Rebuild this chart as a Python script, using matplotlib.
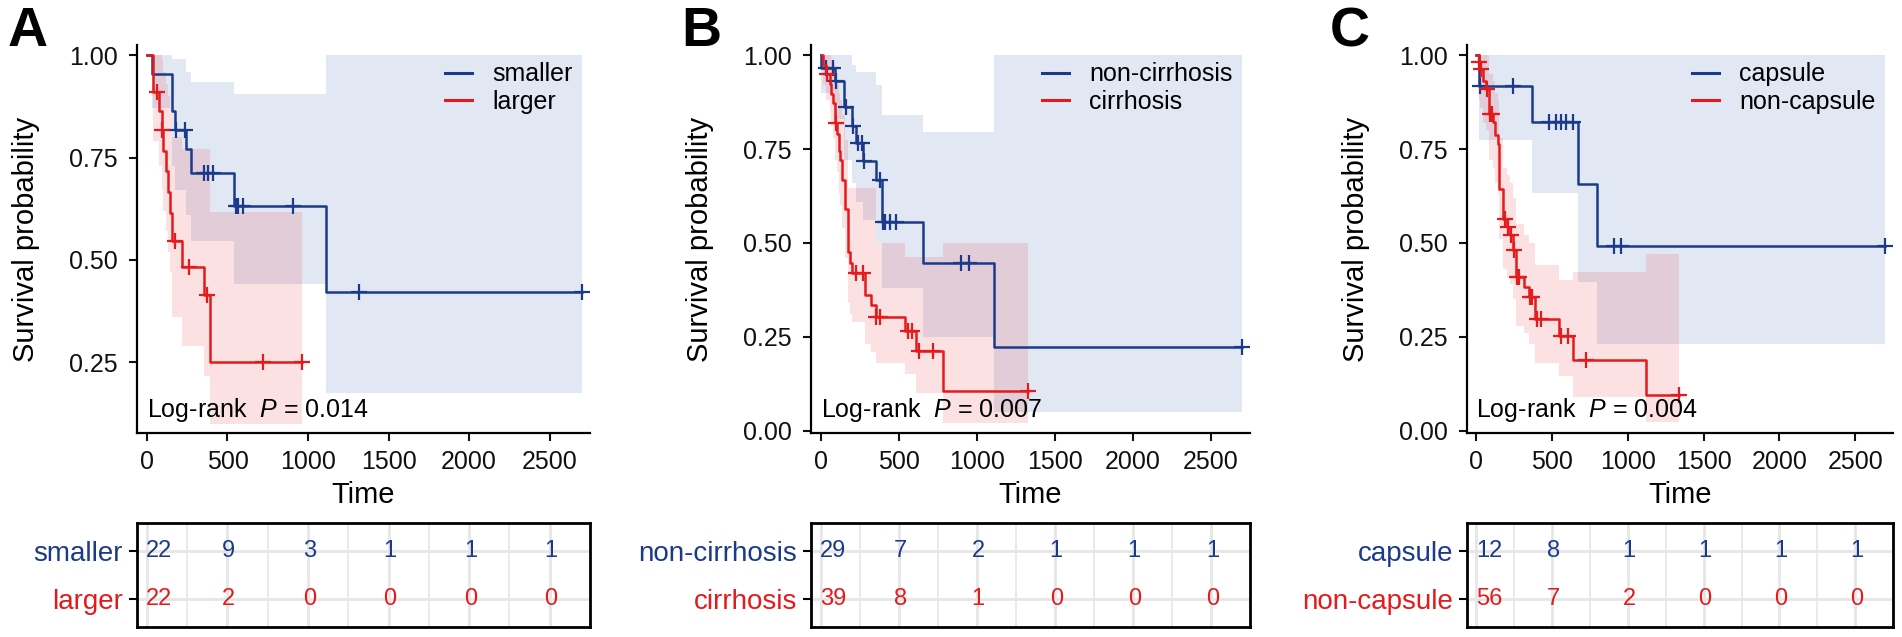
import matplotlib
matplotlib.use("Agg")
import matplotlib.pyplot as plt
from matplotlib.lines import Line2D

plt.rcParams['font.family'] = ['Liberation Sans', 'DejaVu Sans']
plt.rcParams['mathtext.fontset'] = 'custom'
plt.rcParams['mathtext.rm'] = 'Liberation Sans'
plt.rcParams['mathtext.it'] = 'Liberation Sans:italic'

BLUE = '#1B3A8A'
RED = '#E41A1C'
BLUE_BAND = '#4A6FB5'

# time points of the number-at-risk table
risk_times = [0, 500, 1000, 1500, 2000, 2500]

# ---------------- A : tumour size ----------------
a_names = ["smaller", "larger"]
a_pval = "0.014"
# smaller
a_s_time = [0, 30, 153, 175, 241, 271, 542, 1110]
a_s_surv = [1.0, 0.955, 0.864, 0.818, 0.770, 0.711, 0.632, 0.421]
a_s_upper = [1.0, 1.0, 0.99, 0.99, 0.96, 0.935, 0.906, 1.0]
a_s_lower = [1.0, 0.87, 0.73, 0.67, 0.61, 0.545, 0.44, 0.175]
a_s_cens = [178, 236, 353, 380, 411, 550, 567, 598, 904, 1317, 2700]
a_s_risk = [22, 9, 3, 1, 1, 1]
# larger
a_l_time = [0, 39, 74, 91, 101, 116, 128, 143, 153, 215, 353, 391]
a_l_surv = [1.0, 0.909, 0.864, 0.818, 0.767, 0.716, 0.665, 0.614, 0.545, 0.482, 0.414, 0.25]
a_l_upper = [1.0, 1.0, 1.0, 0.99, 0.96, 0.93, 0.90, 0.87, 0.80, 0.772, 0.772, 0.617]
a_l_lower = [1.0, 0.79, 0.73, 0.67, 0.62, 0.57, 0.52, 0.47, 0.36, 0.29, 0.215, 0.10]
a_l_cens = [64, 95, 174, 263, 374, 722, 964]
a_l_risk = [22, 2, 0, 0, 0, 0]

# ---------------- B : cirrhosis ----------------
b_names = ["non-cirrhosis", "cirrhosis"]
b_pval = "0.007"
# non-cirrhosis
b_n_time = [0, 3, 90, 147, 200, 228, 271, 356, 395, 655, 1113]
b_n_surv = [1.0, 0.966, 0.931, 0.862, 0.81, 0.765, 0.719, 0.668, 0.557, 0.446, 0.223]
b_n_upper = [1.0, 1.0, 1.0, 1.0, 0.973, 0.956, 0.956, 0.92, 0.84, 0.796, 1.0]
b_n_lower = [1.0, 0.90, 0.83, 0.72, 0.66, 0.61, 0.56, 0.50, 0.38, 0.25, 0.05]
b_n_cens = [36, 79, 95, 162, 205, 239, 262, 280, 377, 400, 413, 441, 480, 900, 953, 2700]
b_n_risk = [29, 7, 2, 1, 1, 1]
# cirrhosis
b_c_time = [0, 15, 36, 58, 68, 80, 90, 104, 117, 126, 139, 154, 175, 186, 200,
            282, 324, 352, 537, 612, 783]
b_c_surv = [1.0, 0.974, 0.949, 0.923, 0.897, 0.872, 0.82, 0.79, 0.745, 0.72, 0.668,
            0.59, 0.475, 0.447, 0.421, 0.362, 0.335, 0.304, 0.266, 0.211, 0.105]
b_c_upper = [1.0, 1.0, 1.0, 1.0, 0.99, 0.98, 0.95, 0.93, 0.90, 0.88, 0.84,
             0.775, 0.645, 0.645, 0.645, 0.645, 0.645, 0.50, 0.463, 0.463, 0.50]
b_c_lower = [1.0, 0.92, 0.88, 0.85, 0.81, 0.78, 0.72, 0.69, 0.63, 0.60, 0.54,
             0.46, 0.34, 0.31, 0.29, 0.23, 0.21, 0.18, 0.15, 0.10, 0.02]
b_c_cens = [40, 95, 228, 271, 356, 377, 559, 585, 630, 719, 1326]
b_c_risk = [39, 8, 1, 0, 0, 0]

# ---------------- C : capsule ----------------
c_names = ["capsule", "non-capsule"]
c_pval = "0.004"
# capsule
c_c_time = [0, 20, 364, 671, 795]
c_c_surv = [1.0, 0.917, 0.822, 0.658, 0.493]
c_c_upper = [1.0, 1.0, 1.0, 1.0, 1.0]
c_c_lower = [1.0, 0.773, 0.633, 0.395, 0.232]
c_c_cens = [25, 240, 480, 525, 559, 593, 638, 907, 952, 2700]
c_c_risk = [12, 8, 1, 1, 1, 1]
# non-capsule
c_n_time = [0, 16, 25, 43, 61, 83, 110, 121, 144, 150, 177, 200, 222, 240, 263,
            312, 346, 384, 548, 638, 1120]
c_n_surv = [1.0, 0.982, 0.964, 0.93, 0.911, 0.844, 0.822, 0.786, 0.764, 0.644, 0.564,
            0.542, 0.52, 0.48, 0.409, 0.382, 0.355, 0.298, 0.253, 0.188, 0.094]
c_n_upper = [1.0, 1.0, 1.0, 1.0, 1.0, 0.95, 0.93, 0.90, 0.88, 0.78, 0.70,
             0.68, 0.66, 0.62, 0.55, 0.52, 0.50, 0.44, 0.40, 0.422, 0.471]
c_n_lower = [1.0, 0.88, 0.86, 0.82, 0.80, 0.72, 0.70, 0.66, 0.63, 0.51, 0.43,
             0.41, 0.39, 0.35, 0.28, 0.26, 0.23, 0.18, 0.145, 0.09, 0.022]
c_n_cens = [18, 30, 70, 90, 100, 189, 211, 228, 245, 268, 278, 355, 368, 402, 424,
            560, 604, 721, 1340]
c_n_risk = [56, 7, 2, 0, 0, 0]


def step_at(t, times, vals):
    idx = 0
    for i, tt in enumerate(times):
        if tt <= t:
            idx = i
    return vals[idx]


def draw_group(ax, times, surv, upper, lower, cens, color, band, alpha):
    end = max(times[-1], max(cens))
    tx = times + [end]
    ax.fill_between(tx, lower + [lower[-1]], upper + [upper[-1]], step='post',
                    color=band, alpha=alpha, lw=0)
    ax.step(tx, surv + [surv[-1]], where='post', color=color, lw=1.8)
    ax.plot(cens, [step_at(c, times, surv) for c in cens], ls='none', marker='+',
            ms=12, mew=1.6, color=color)


panels = [
    ("A", a_names, a_pval,
     (a_s_time, a_s_surv, a_s_upper, a_s_lower, a_s_cens, a_s_risk),
     (a_l_time, a_l_surv, a_l_upper, a_l_lower, a_l_cens, a_l_risk)),
    ("B", b_names, b_pval,
     (b_n_time, b_n_surv, b_n_upper, b_n_lower, b_n_cens, b_n_risk),
     (b_c_time, b_c_surv, b_c_upper, b_c_lower, b_c_cens, b_c_risk)),
    ("C", c_names, c_pval,
     (c_c_time, c_c_surv, c_c_upper, c_c_lower, c_c_cens, c_c_risk),
     (c_n_time, c_n_surv, c_n_upper, c_n_lower, c_n_cens, c_n_risk)),
]

# layout (figure fractions)
lefts = [0.0720, 0.4264, 0.7713]
widths = [0.2382, 0.2308, 0.2240]
letter_x = [0.004, 0.358, 0.699]
ylims = [(0.077, 1.025), (-0.006, 1.027), (-0.006, 1.027)]
yticks = [[0.25, 0.5, 0.75, 1.0], [0, 0.25, 0.5, 0.75, 1.0], [0, 0.25, 0.5, 0.75, 1.0]]
XLIM = (-62, 2750)

fig = plt.figure(figsize=(19.02, 6.37), dpi=100)

for k, (letter, names, pval, g1, g2) in enumerate(panels):
    ax = fig.add_axes([lefts[k], 0.3203, widths[k], 0.6091])
    draw_group(ax, *g1[:5], BLUE, BLUE_BAND, 0.16)
    draw_group(ax, *g2[:5], RED, RED, 0.13)
    ax.set_xlim(*XLIM)
    ax.set_ylim(*ylims[k])
    ax.set_xticks(risk_times)
    ax.set_yticks(yticks[k])
    ax.set_yticklabels(["%.2f" % v for v in yticks[k]])
    for s in ["top", "right"]:
        ax.spines[s].set_visible(False)
    for s in ["left", "bottom"]:
        ax.spines[s].set_linewidth(1.6)
    ax.tick_params(length=6, width=1.5, labelsize=18, colors='#111111')
    ax.tick_params(axis='x', pad=6)
    ax.tick_params(axis='y', pad=8)
    ax.set_ylabel("Survival probability", fontsize=21)
    ax.set_xlabel("Time", fontsize=21)
    ax.yaxis.set_label_coords(-0.215 * 453 / (widths[k] * 1902), 0.5)
    ax.xaxis.set_label_coords(0.5, -0.125)
    handles = [Line2D([], [], color=BLUE, lw=2.2), Line2D([], [], color=RED, lw=2.2)]
    ax.legend(handles, names, loc='upper right', frameon=False, fontsize=18,
              handlelength=1.1, handletextpad=0.8, labelspacing=0.15,
              borderaxespad=0.3)
    ax.text(0, 0.041, "Log-rank  $\\mathit{P}$ = " + pval, fontsize=18,
            transform=ax.get_xaxis_transform(), va='baseline', ha='left')
    fig.text(letter_x[k], 0.99, letter, fontsize=40, fontweight='bold', va='top')

    # number at risk table
    tb = fig.add_axes([lefts[k], 0.0157, widths[k], 0.1633])
    tb.set_xlim(*XLIM)
    tb.set_ylim(2.6, 0.4)
    for gx in range(0, 2751, 250):
        tb.axvline(gx, color='#E6E6E6', lw=2.0 if gx % 500 == 0 else 1.2, zorder=0)
    for gy in (1, 2):
        tb.axhline(gy, color='#E6E6E6', lw=2.0, zorder=0)
    for row, (g, col) in enumerate(((g1, BLUE), (g2, RED)), start=1):
        for t, n in zip(risk_times, g[5]):
            # first column is nudged inside the box, as in the original
            dx = 9 if t == risk_times[0] else 1
            tb.annotate(str(n), (t, row), xytext=(dx, 0), textcoords='offset points',
                        color=col, fontsize=17, ha='center', va='center')
    tb.set_xticks([])
    tb.set_yticks([1, 2])
    tb.set_yticklabels(names, fontsize=20)
    for lab, col in zip(tb.get_yticklabels(), (BLUE, RED)):
        lab.set_color(col)
    tb.tick_params(axis='y', length=6, width=1.5, pad=4)
    for s in tb.spines.values():
        s.set_linewidth(2.0)

fig.savefig("out.png", dpi=100)
